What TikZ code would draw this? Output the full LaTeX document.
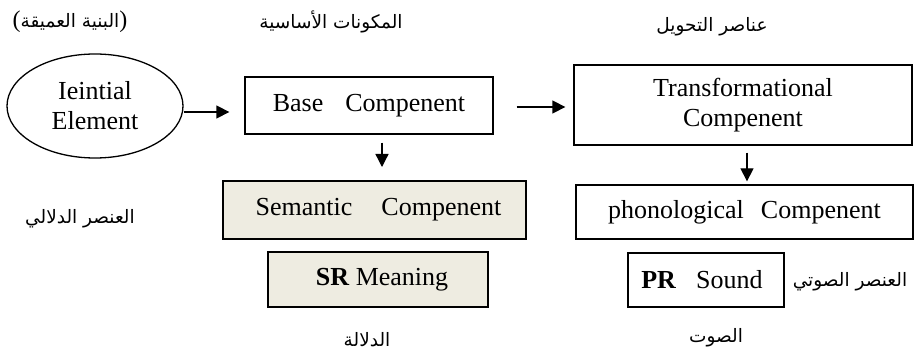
\documentclass[tikz,border=0pt]{standalone}
\usepackage{fontspec}
\setmainfont{Liberation Serif}
\newfontfamily\arabicfont[Script=Arabic]{DejaVu Sans}
\TeXXeTstate=1
\usetikzlibrary{shapes.geometric,arrows.meta}
\definecolor{paper}{HTML}{EEECE1}
\newcommand{\bigparen}[1]{{\rmfamily\fontsize{24}{24}\selectfont #1}}
\begin{document}
\begin{tikzpicture}[x=1pt,y=1pt,
  box/.style={draw, line width=1.3pt, inner sep=0pt, align=center,
    font=\fontsize{26}{30}\selectfont},
  shaded/.style={box, fill=paper, line width=2pt},
  arr/.style={line width=1.3pt, -{Triangle[length=13pt,width=13pt]}},
  ar/.style={inner sep=0pt, font=\arabicfont\fontsize{18.5}{22}\selectfont}]
\useasboundingbox (0,0) rectangle (916,359);

% components
\node[box, ellipse, minimum width=176pt, minimum height=104pt] (ell) at (95,253) {Ieintial\\Element};
\node[box, minimum width=248pt, minimum height=57pt] (base) at (369,253.5) {Base\hspace{22pt}Compenent};
\node[box, minimum width=338pt, minimum height=80pt] (trans) at (743,254) {Transformational\\Compenent};
\node[shaded, minimum width=303pt, minimum height=58pt] (sem) at (374.5,149) {\hspace{8pt}Semantic\hspace{29pt}Compenent};
\node[shaded, minimum width=220pt, minimum height=55pt] (sr) at (378,79.5) {\hspace{8pt}\textbf{SR} Meaning};
\node[box, minimum width=337pt, minimum height=54pt] (phon) at (744.5,147) {phonological\hspace{17pt}Compenent};
\node[box, minimum width=156pt, minimum height=54pt] (pr) at (706,79) {\textbf{PR}\hspace{20pt}Sound\hspace{8pt}};

% arrows
\draw[arr] ([yshift=-6pt]ell.east) -- ([xshift=-15pt,yshift=-6.5pt]base.west);
\draw[arr] ([xshift=23pt,yshift=-1.5pt]base.east) -- ([xshift=-8pt,yshift=-2pt]trans.west);
\draw[arr] ([xshift=13pt,yshift=-8pt]base.south) -- ([xshift=7.5pt,yshift=13pt]sem.north);
\draw[arr] ([xshift=4pt,yshift=-7pt]trans.south) -- ([xshift=2.5pt,yshift=3pt]phon.north);

% Arabic labels
\node[ar] (deep) at (70,337) {\bigparen{(}\beginR البنية العميقة\endR\bigparen{)}};
\node[ar] (baseL) at (331,337) {\beginR المكونات الأساسية\endR};
\node[ar] (transL) at (712,332) {\beginR عناصر التحويل\endR};
\node[ar] (semL) at (80,140) {\beginR العنصر الدلالي\endR};
\node[ar] (dalala) at (367,19) {\beginR الدلالة\endR};
\node[ar] (sawt) at (716,21) {\beginR الصوت\endR};
\node[ar] (soundL) at (850,77) {\beginR العنصر الصوتي\endR};
\end{tikzpicture}
\end{document}
